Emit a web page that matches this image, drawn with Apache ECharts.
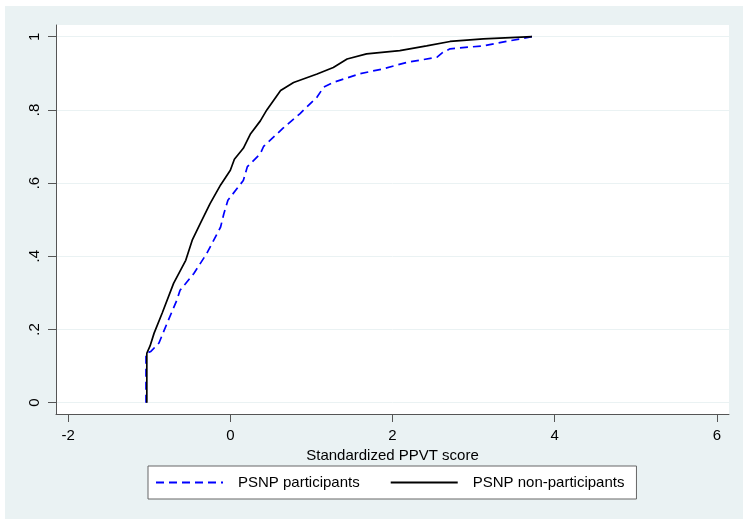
<!DOCTYPE html>
<html>
<head>
<meta charset="utf-8">
<script src="https://cdn.jsdelivr.net/npm/echarts@6/dist/echarts.min.js"></script>
<style>
html, body { margin: 0; padding: 0; background: #fff; }
#chart { position: absolute; left: 5px; top: 6px; width: 738px; height: 513px; }
</style>
</head>
<body>
<div id="chart"></div>
<script>
// tick values
var xTicks = [-2, 0, 2, 4, 6];
var yTicks = [0, 0.2, 0.4, 0.6, 0.8, 1];

// cumulative distribution [score, share]
var participants = [
	[-1.04, 0], [-1.04, 0.135], [-0.98, 0.14], [-0.88, 0.163], [-0.78, 0.217],
	[-0.66, 0.28], [-0.62, 0.307], [-0.45, 0.353], [-0.29, 0.408], [-0.16, 0.463],
	[-0.12, 0.48], [-0.08, 0.516], [-0.03, 0.553], [0.16, 0.607], [0.21, 0.645],
	[0.37, 0.68], [0.41, 0.70], [0.65, 0.75], [0.86, 0.79], [1.07, 0.835],
	[1.15, 0.862], [1.27, 0.875], [1.60, 0.899], [1.88, 0.912], [2.18, 0.93],
	[2.55, 0.944], [2.62, 0.957], [2.71, 0.967], [3.12, 0.975], [3.45, 0.989],
	[3.72, 1.0]
];
var nonParticipants = [
	[-1.03, 0], [-1.03, 0.135], [-0.99, 0.155], [-0.94, 0.19], [-0.84, 0.245],
	[-0.70, 0.326], [-0.55, 0.389], [-0.47, 0.444], [-0.37, 0.49], [-0.25, 0.544],
	[-0.12, 0.595], [0, 0.635], [0.05, 0.665], [0.16, 0.695], [0.25, 0.735],
	[0.37, 0.77], [0.45, 0.80], [0.62, 0.853], [0.78, 0.875], [1.07, 0.898],
	[1.27, 0.916], [1.44, 0.939], [1.68, 0.953], [2.09, 0.962], [2.42, 0.975],
	[2.71, 0.987], [3.12, 0.994], [3.72, 1.0]
];

var chart = echarts.init(document.getElementById('chart'));

var option = {
	backgroundColor: '#EAF2F3',
	animation: false,
	textStyle: {
		fontFamily: 'Liberation Sans, Arial, sans-serif'
	},
	grid: {
		left: 51,
		right: 14,
		top: 19,
		bottom: 105,
		show: true,
		backgroundColor: '#fff',
		borderWidth: 0
	},
	legend: {
		left: 143,
		top: 460,
		orient: 'horizontal',
		backgroundColor: '#fff',
		borderColor: '#666',
		borderWidth: 1,
		padding: [9, 12, 9, 7],
		itemWidth: 67,
		itemHeight: 14,
		itemGap: 30,
		itemStyle: { opacity: 0 },
		textStyle: {
			fontSize: 15,
			color: '#000',
			padding: [0, 0, 0, 10]
		},
		data: ['PSNP participants', 'PSNP non-participants']
	},
	xAxis: {
		type: 'value',
		min: -2.15,
		max: 6.15,
		name: 'Standardized PPVT score',
		nameLocation: 'middle',
		nameGap: 31,
		nameTextStyle: {
			fontSize: 15,
			color: '#000'
		},
		axisLine: {
			show: true,
			onZero: false,
			lineStyle: { color: '#555', width: 1 }
		},
		axisTick: {
			show: true,
			length: 8,
			customValues: xTicks,
			lineStyle: { color: '#555' }
		},
		axisLabel: {
			customValues: xTicks,
			margin: 14,
			fontSize: 15,
			color: '#000',
			formatter: function (v) { return String(v); }
		},
		splitLine: { show: false }
	},
	yAxis: {
		type: 'value',
		min: -0.031,
		max: 1.032,
		axisLine: {
			show: true,
			onZero: false,
			lineStyle: { color: '#555', width: 1 }
		},
		axisTick: {
			show: true,
			length: 8,
			customValues: yTicks,
			lineStyle: { color: '#555' }
		},
		axisLabel: {
			customValues: yTicks,
			rotate: 90,
			margin: 14,
			fontSize: 15,
			color: '#000',
			formatter: function (v) {
				if (v === 0 || v === 1) return String(v);
				return String(v).replace('0.', '.');
			}
		},
		splitLine: {
			show: true,
			lineStyle: { color: '#EAF2F3', width: 1 }
		}
	},
	series: [{
		name: 'PSNP participants',
		type: 'line',
		data: participants,
		symbol: 'none',
		z: 2,
		lineStyle: {
			color: '#0000ff',
			width: 1.7,
			type: [8, 5]
		},
		itemStyle: { color: '#0000ff' }
	},
	{
		name: 'PSNP non-participants',
		type: 'line',
		data: nonParticipants,
		symbol: 'none',
		z: 3,
		lineStyle: {
			color: '#000',
			width: 1.7
		},
		itemStyle: { color: '#000' }
	}]
};

chart.setOption(option);
</script>
</body>
</html>
